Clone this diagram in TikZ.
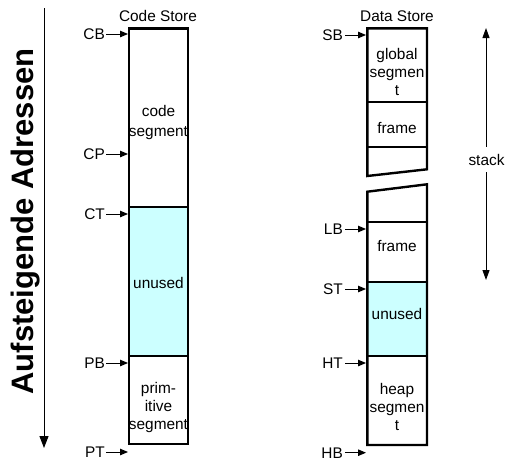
\documentclass[tikz,border=0pt]{standalone}
\usepackage{fontspec}
\setmainfont{Liberation Sans}
\usetikzlibrary{arrows.meta}
\definecolor{unusedcol}{HTML}{CCFFFF}
\tikzset{
  mem/.style={line width=2.4pt},
  ptr/.style={line width=1pt,-{Triangle[length=8pt,width=6.5pt]}},
  lbl/.style={inner sep=0pt,anchor=east,font=\fontsize{15.4}{18}\selectfont},
  txt/.style={inner sep=0pt,align=center,font=\fontsize{15.4}{18}\selectfont},
}
\begin{document}
\begin{tikzpicture}[x=1pt,y=-1pt]
\useasboundingbox (0,0) rectangle (506,461);
% axis
\coordinate (axtop) at (44,8);
\coordinate (axbot) at (44,448);
\draw[line width=1pt,-{Triangle[length=12pt,width=9pt]}] (axtop) -- (axbot);
\node[rotate=90,anchor=base,inner sep=0pt,font=\fontsize{31}{36}\selectfont\bfseries] (axlbl) at (33,221.5) {Aufsteigende Adressen};
% Code store
\node[txt] (cstitle) at (158,16) {Code Store};
\fill[unusedcol] (129,207) rectangle (188,355.7);
\draw[mem] (129,28.5) rectangle (188,444);
\draw[mem] (129,207) -- (188,207);
\draw[mem] (129,355.7) -- (188,355.7);
\node[txt] (cseg) at (158.5,123) {code\\[2pt]segment};
\node[txt] (cunused) at (158.5,283) {unused};
\node[txt] (pseg) at (158.5,407.5) {prim-\\itive\\segment};
% code pointers
\foreach \n/\y in {CB/34,CP/154,CT/214,PB/363,PT/452}{
  \node[lbl] (l\n) at (105,\y) {\n};
  \coordinate (t\n) at (128,\y);
  \draw[ptr] (l\n.east) ++(1pt,0) -- (t\n);
}
% Data store
\node[txt] (dstitle) at (397,16) {Data Store};
\fill[unusedcol] (367.3,281.7) rectangle (427,355.7);
\draw[mem,line join=miter] (367.3,28.3) -- (427,28.3) -- (427,169.3) -- (367.3,176) -- cycle;
\draw[mem] (367.3,101.7) -- (427,101.7);
\draw[mem] (367.3,146.7) -- (427,146.7);
\draw[mem,line join=miter] (367.3,191.7) -- (427,184.3) -- (427,445) -- (367.3,445) -- cycle;
\draw[mem] (367.3,221.7) -- (427,221.7);
\draw[mem] (367.3,281.7) -- (427,281.7);
\draw[mem] (367.3,355.7) -- (427,355.7);
\node[txt] (gseg) at (397,71.5) {global\\segmen\\t};
\node[txt] (frame1) at (397,128) {frame};
\node[txt] (frame2) at (397,246) {frame};
\node[txt] (dunused) at (397,314) {unused};
\node[txt] (hseg) at (397,407) {heap\\segmen\\t};
% data pointers
\foreach \n/\y in {SB/35,LB/229,ST/289,HT/363,HB/452.7}{
  \node[lbl] (l\n) at (343,\y) {\n};
  \coordinate (t\n) at (366,\y);
  \draw[ptr] (l\n.east) ++(2pt,0) -- (t\n);
}
% stack arrow
\node[txt,minimum height=25pt] (stack) at (486.5,159.5) {stack};
\coordinate (sttop) at (486,28);
\coordinate (stbot) at (486,280);
\draw[line width=1pt,-{Triangle[length=10pt,width=7pt]}] (stack.north -| sttop) -- (sttop);
\draw[line width=1pt,-{Triangle[length=10pt,width=7pt]}] (stack.south -| stbot) -- (stbot);
\end{tikzpicture}
\end{document}
